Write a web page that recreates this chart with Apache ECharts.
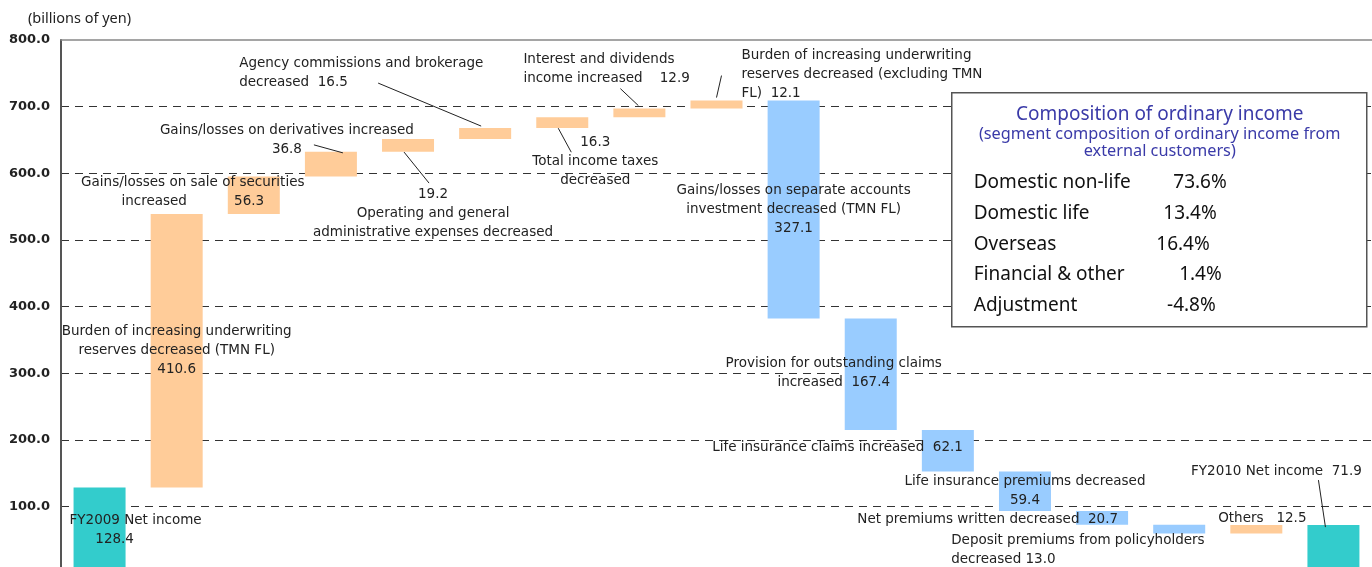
<!DOCTYPE html>
<html>
<head>
<meta charset="utf-8">
<script src="https://cdn.jsdelivr.net/npm/echarts@6/dist/echarts.min.js"></script>
<style>
  html, body { margin: 0; padding: 0; background: #fff; overflow: hidden; height: 567px; }
  #main { width: 1372px; height: 580px; }
</style>
</head>
<body>
<div id="main"></div>
<script>
// 数据：净利润变动因素（十亿日元）
var categories = [
  'FY2009 Net income',
  'Burden of increasing underwriting reserves decreased (TMN FL)',
  'Gains/losses on sale of securities increased',
  'Gains/losses on derivatives increased',
  'Operating and general administrative expenses decreased',
  'Agency commissions and brokerage decreased',
  'Total income taxes decreased',
  'Interest and dividends income increased',
  'Burden of increasing underwriting reserves decreased (excluding TMN FL)',
  'Gains/losses on separate accounts investment decreased (TMN FL)',
  'Provision for outstanding claims increased',
  'Life insurance claims increased',
  'Life insurance premiums decreased',
  'Net premiums written decreased',
  'Deposit premiums from policyholders decreased',
  'Others',
  'FY2010 Net income'
];
var changes = [128.4, 410.6, 56.3, 36.8, 19.2, 16.5, 16.3, 12.9, 12.1,
  -327.1, -167.4, -62.1, -59.4, -20.7, -13.0, 12.5, 71.9];
var isTotal = [true, false, false, false, false, false, false, false, false,
  false, false, false, false, false, false, false, true];
var labelTexts = [
  'FY2009 Net income\n      128.4',
  'Burden of increasing underwriting\nreserves decreased (TMN FL)\n410.6',
  'Gains/losses on sale of securities\nincreased           56.3',
  'Gains/losses on derivatives increased\n36.8',
  '19.2\nOperating and general\nadministrative expenses decreased',
  'Agency commissions and brokerage\ndecreased  16.5',
  '16.3\nTotal income taxes\ndecreased',
  'Interest and dividends\nincome increased    12.9',
  'Burden of increasing underwriting\nreserves decreased (excluding TMN\nFL)  12.1',
  'Gains/losses on separate accounts\ninvestment decreased (TMN FL)\n327.1',
  'Provision for outstanding claims\nincreased  167.4',
  'Life insurance claims increased  62.1',
  'Life insurance premiums decreased\n59.4',
  'Net premiums written decreased  20.7',
  'Deposit premiums from policyholders\ndecreased 13.0',
  'Others   12.5',
  'FY2010 Net income  71.9'
];
var yTicks = [0, 100, 200, 300, 400, 500, 600, 700, 800];

var segmentNames = ['Domestic non-life', 'Domestic life', 'Overseas', 'Financial & other', 'Adjustment'];
var segmentShares = ['73.6%', '13.4%', '16.4%', '1.4%', '-4.8%'];

// 标签位置（相对柱子左上角）：[x, y, 对齐]
var labelPos = [
  [-4, 24, 'left'],
  [26, 108, 'center'],
  [-35, -3, 'center'],
  [-18, -31, 'center'],
  [51, 46, 'center'],
  [-220, -74, 'left'],
  [59, 16, 'center'],
  [-90, -59, 'left'],
  [51, -55, 'left'],
  [26, 80, 'center'],
  [-11, 36, 'center'],
  [41, 8, 'right'],
  [26, 1, 'center'],
  [42, -1, 'right'],
  [-202, 6, 'left'],
  [32, -16, 'center'],
  [-31, -63, 'center']
];
// 引线（相对柱子左上角）：[柱序号, 起点, 终点]
var leaderLines = [
  [3, [9, -7], [38, 1]],
  [4, [22, 13], [47, 44]],
  [5, [-81, -45], [22, -2]],
  [6, [22, 11], [35, 35]],
  [7, [7, -20], [25, -3]],
  [8, [31, -25], [26, -3]],
  [16, [11, -45], [18, 2]]
];
var shareRight = [275, 265, 258, 270, 264];

var colorTotal = '#33CCCC', colorUp = '#FFCC99', colorDown = '#99CCFF';
var font = '"Noto Sans", sans-serif';
var labelFont = '"DejaVu Sans", sans-serif';
var barW = 52;

// 计算瀑布图底座
var baseData = [], barData = [], barTop = [];
var running = 0;
for (var i = 0; i < changes.length; i++) {
  var v = changes[i];
  var color, h;
  if (isTotal[i]) {
    baseData.push(0);
    h = v;
    running = v;
    color = colorTotal;
  } else if (v >= 0) {
    baseData.push(running);
    h = v;
    running += v;
    color = colorUp;
  } else {
    running += v;
    baseData.push(running);
    h = -v;
    color = colorDown;
  }
  barTop.push(baseData[i] + h);
  var p = labelPos[i];
  barData.push({
    value: h,
    itemStyle: { color: color },
    label: { position: [p[0], p[1]], align: p[2] }
  });
}
var leaderData = leaderLines.map(function (l, n) { return [l[0], barTop[l[0]], n]; });

// 右侧说明框
var legendGraphic = [
  { type: 'rect', z: 100, shape: { x: 0, y: 0, width: 415, height: 234 },
    style: { fill: '#fff', stroke: '#555', lineWidth: 1.5 } },
  { type: 'text', z: 101, x: 208, y: 22, style: { text: 'Composition of ordinary income', fill: '#3a3aa8',
      font: '19px ' + font, textAlign: 'center', textVerticalAlign: 'middle' } },
  { type: 'text', z: 101, x: 208, y: 50, style: { text: '(segment composition of ordinary income from\nexternal customers)',
      fill: '#3a3aa8', font: '16.3px ' + font, lineHeight: 17, textAlign: 'center', textVerticalAlign: 'middle' } }
];
for (var k = 0; k < segmentNames.length; k++) {
  var yy = 90 + k * 30.7;
  legendGraphic.push({ type: 'text', z: 101, x: 22, y: yy, style: { text: segmentNames[k], fill: '#111',
    font: '19px ' + font, textVerticalAlign: 'middle' } });
  legendGraphic.push({ type: 'text', z: 101, x: shareRight[k], y: yy, style: { text: segmentShares[k], fill: '#111',
    font: '19px ' + font, textAlign: 'right', textVerticalAlign: 'middle' } });
}

var chart = echarts.init(document.getElementById('main'));
chart.setOption({
  animation: false,
  backgroundColor: '#fff',
  grid: { left: 61, right: -5, top: 40, bottom: 7, containLabel: false },
  xAxis: {
    type: 'category',
    data: categories,
    position: 'top',
    axisLine: { show: true, onZero: false, lineStyle: { color: '#888', width: 1.5 } },
    axisTick: { show: false },
    axisLabel: { show: false },
    splitLine: { show: false }
  },
  yAxis: {
    type: 'value',
    min: yTicks[0],
    max: yTicks[yTicks.length - 1],
    interval: 100,
    axisLine: { show: true, lineStyle: { color: '#555', width: 2 } },
    axisTick: { show: false },
    axisLabel: {
      margin: 11,
      color: '#222',
      fontFamily: labelFont,
      fontWeight: 'bold',
      fontSize: 13,
      formatter: function (v) { return v.toFixed(1); }
    },
    splitLine: { show: true, showMaxLine: false, lineStyle: { color: '#333', type: [8, 6], width: 1 } }
  },
  graphic: [
    { type: 'text', left: 28, top: 11, style: { text: '(billions of yen)', fill: '#222', font: '14.5px ' + font } },
    { type: 'group', left: 951, top: 92, z: 100, children: legendGraphic }
  ],
  series: [
    {
      type: 'bar', stack: 'w', barWidth: barW, silent: true,
      itemStyle: { color: 'transparent' },
      data: baseData
    },
    {
      type: 'bar', stack: 'w', barWidth: barW,
      data: barData,
      label: {
        show: true,
        verticalAlign: 'top',
        color: '#222',
        fontFamily: labelFont,
        fontSize: 13.5,
        lineHeight: 19,
        formatter: function (p) { return labelTexts[p.dataIndex]; }
      }
    },
    {
      // 引线：以柱顶为锚点
      type: 'custom',
      silent: true,
      z: 5,
      data: leaderData,
      renderItem: function (params, api) {
        var pt = api.coord([api.value(0), api.value(1)]);
        var seg = leaderLines[api.value(2)];
        var x0 = pt[0] - barW / 2, y0 = pt[1];
        return {
          type: 'line',
          shape: { x1: x0 + seg[1][0], y1: y0 + seg[1][1], x2: x0 + seg[2][0], y2: y0 + seg[2][1] },
          style: { stroke: '#222', lineWidth: 1 }
        };
      }
    }
  ]
});
</script>
</body>
</html>
